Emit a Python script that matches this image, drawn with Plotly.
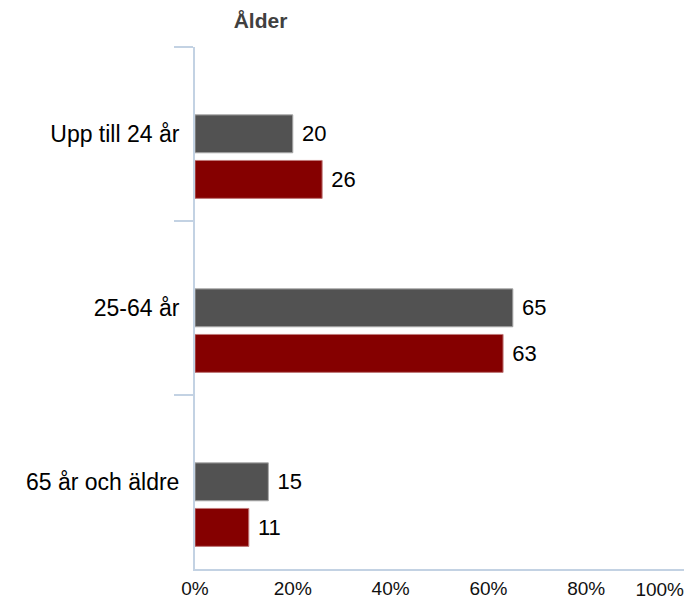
import plotly.graph_objects as go

categories = ["Upp till 24 år", "25-64 år", "65 år och äldre"]
series_grey = [20, 65, 15]
series_red = [26, 63, 11]
x_tick_vals = [0, 20, 40, 60, 80]
x_tick_text = ["0%", "20%", "40%", "60%", "80%"]
x_last_val = [100]
x_last_text = ["100%"]

FONT = "Liberation Sans, Arial, sans-serif"
AXIS_COLOR = "#C3D2E3"

# the page body has an 8px default margin, so the figure is sized to fit the 693x600 window
W, H = 685, 592

fig = go.Figure()
fig.add_trace(go.Bar(
    y=categories, x=series_grey, orientation="h",
    marker=dict(color="#525252", line=dict(color="#A8A8A8", width=1)),
    offset=-0.11, width=0.218,
    text=[str(v) for v in series_grey], texttemplate="\u00a0%{text}", textposition="outside",
    textfont=dict(family=FONT, size=22, color="#000000"),
    cliponaxis=False, hoverinfo="skip",
))
fig.add_trace(go.Bar(
    y=categories, x=series_red, orientation="h",
    marker=dict(color="#850000", line=dict(color="#C07A7A", width=1)),
    offset=0.152, width=0.218,
    text=[str(v) for v in series_red], texttemplate="\u00a0%{text}", textposition="outside",
    textfont=dict(family=FONT, size=22, color="#000000"),
    cliponaxis=False, hoverinfo="skip",
))
# invisible helper trace to host the secondary x axis (same scale) for the last tick label
fig.add_trace(go.Scatter(x=[None], y=[None], xaxis="x2", showlegend=False, hoverinfo="skip"))

fig.update_layout(
    width=W, height=H,
    margin=dict(l=187, r=9, t=39, b=31, autoexpand=False),
    paper_bgcolor="white", plot_bgcolor="white",
    barmode="overlay",
    showlegend=False,
    title=dict(text="<b>Ålder</b>", x=252.5/W, xref="container", xanchor="center",
               y=1-13/H, yref="container", yanchor="middle",
               font=dict(family=FONT, size=21, color="#404040")),
    xaxis=dict(range=[0, 100], tickvals=x_tick_vals, ticktext=x_tick_text, automargin=False,
               showgrid=False, zeroline=False, showline=True, linecolor=AXIS_COLOR, linewidth=2,
               ticks="", ticklabelstandoff=1,
               tickfont=dict(family=FONT, size=19, color="#111111")),
    xaxis2=dict(range=[0, 100], overlaying="x", side="bottom", tickvals=x_last_val, ticktext=x_last_text,
                automargin=False,
                showgrid=False, zeroline=False, showline=False, ticks="",
                ticklabelposition="outside left", ticklabelstandoff=7,
                tickfont=dict(family=FONT, size=19, color="#111111")),
    yaxis=dict(type="category", autorange="reversed", categoryorder="array", categoryarray=categories,
               automargin=False,
               showgrid=False, zeroline=False, showline=True, linecolor=AXIS_COLOR, linewidth=2,
               ticks="outside", tickson="boundaries", ticklen=19, tickcolor=AXIS_COLOR, tickwidth=2,
               ticklabelstandoff=9,
               tickfont=dict(family=FONT, size=23, color="#000000")),
)

fig.write_html("out.html")
